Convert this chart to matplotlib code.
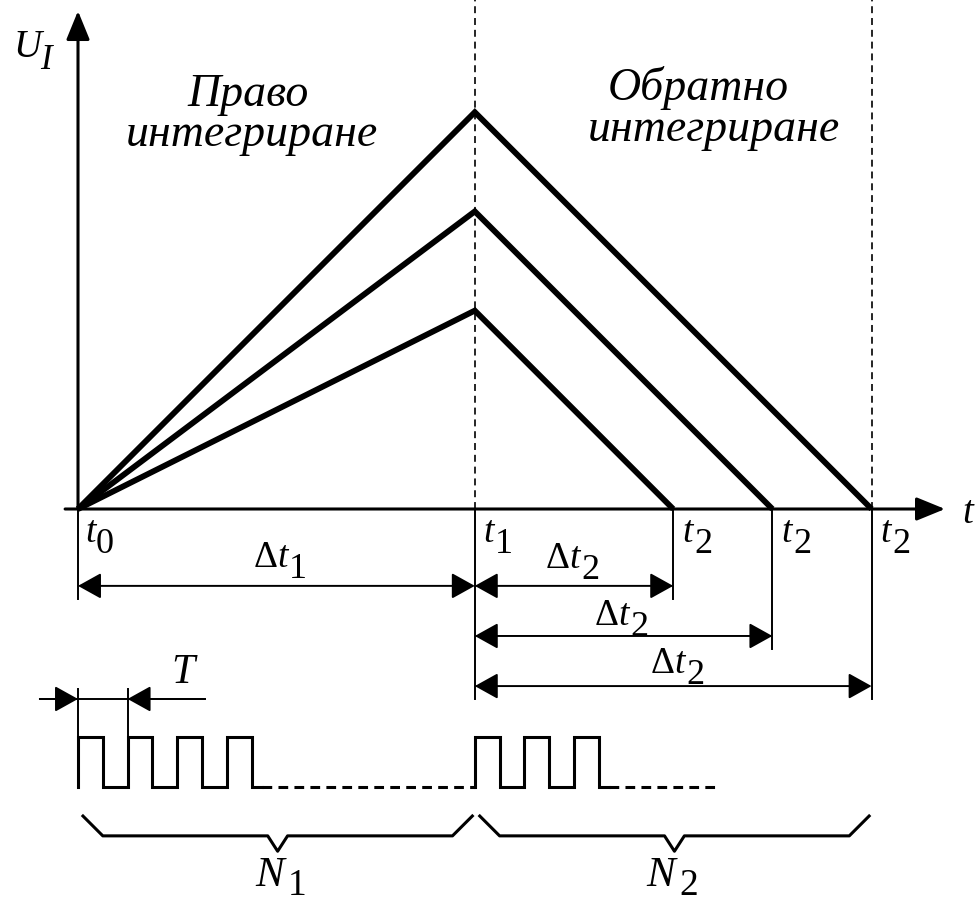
import numpy as np
import matplotlib.pyplot as plt

plt.rcParams['font.family'] = 'Liberation Serif'
plt.rcParams['mathtext.fontset'] = 'custom'
plt.rcParams['mathtext.rm'] = 'Liberation Serif'
plt.rcParams['mathtext.it'] = 'Liberation Serif:italic'
plt.rcParams['lines.scale_dashes'] = False

#---------------------------------------------------------- data (time in clock periods T)
t0       = 0
t1       = 8
peaks    = [8, 6, 4]          # U_I at t1 for three input voltages
t2       = [16, 14, 12]       # end of reverse integration
n1_shown = 4                  # pulses drawn before the dots
n2_shown = 3
dots1_end = t1
dots2_end = 12.9

#---------------------------------------------------------- figure in units of T
S  = 49.6                     # px per unit
W, H = 979, 904
ox, oy = 78, 510              # origin in px
fig = plt.figure(figsize=(W/100, H/100), dpi=100)
ax = fig.add_axes([0, 0, 1, 1])
ax.set_xlim(-ox/S, (W-ox)/S)
ax.set_ylim(-(H-oy)/S, oy/S)
ax.axis('off')

def px(x, y):
    # pixel position -> data units
    return (x - ox)/S, (oy - y)/S

k = 'black'
thick, mid, thin = 4.2, 2.2, 1.4

# label made of pieces: (text, italic, dx, dy, size) relative to anchor (left, baseline)
def label(x, y, parts):
    for txt, it, dx, dy, fs in parts:
        ax.annotate(txt, xy=(x, y), xytext=(dx, dy), textcoords='offset pixels',
                    ha='left', va='baseline', fontsize=fs,
                    style='italic' if it else 'normal')

def sub(x, y, base, idx, step, drop=11, fs=27, fs2=26, it2=False):
    label(x, y, [(base, True, 0, 0, fs), (idx, it2, step, -drop, fs2)])

def dsub(x, y, idx):
    label(x, y, [(r'$\Delta t$', False, 0, 0, 27), (idx, False, 36, -11, 26)])

# axes with arrows
ax.annotate('', xy=(0, 10.04), xytext=(0, 0),
            arrowprops=dict(arrowstyle='-|>,head_length=1.1,head_width=0.45', mutation_scale=16,
                            lw=mid, color=k, shrinkA=0, shrinkB=0))
ax.annotate('', xy=(17.48, 0), xytext=(-0.26, 0),
            arrowprops=dict(arrowstyle='-|>,head_length=1.1,head_width=0.45', mutation_scale=16,
                            lw=mid, color=k, shrinkA=0, shrinkB=0))

# dashed guides
for xv in [t1, max(t2)]:
    ax.plot([xv, xv], [0, oy/S], ls=(0, (5, 3.5)), lw=1.2, c=k)

# integrator ramps
for p, te in zip(peaks, t2):
    ax.plot([t0, t1, te], [0, p, 0], lw=thick, c=k, solid_joinstyle='miter', solid_capstyle='butt')

# extension lines
ax.plot([t0, t0], [0, -1.81], lw=thin, c=k)
ax.plot([t1, t1], [0, -3.83], lw=thin, c=k)
for te, yb in zip(sorted(t2), [-1.81, -2.82, -3.83]):
    ax.plot([te, te], [0, yb], lw=thin, c=k)

# dimension arrows
ast = '<|-|>,head_length=0.9,head_width=0.5'
def dim(xa, xb, y):
    ax.annotate('', xy=(xb, y), xytext=(xa, y),
                arrowprops=dict(arrowstyle=ast, mutation_scale=16, lw=thin, color=k,
                                shrinkA=0, shrinkB=0))

dim(t0, t1, -1.55)
dim(t1, t2[2], -1.55)
dim(t1, t2[1], -2.56)
dim(t1, t2[0], -3.57)
dsub(*px(253, 567), '1')
dsub(*px(545, 568), '2')
dsub(*px(594, 625), '2')
dsub(*px(650, 673), '2')

# time labels
dy_t = (oy - 542)/S
sub(t0 + 7/S, dy_t, 't', '0', 11)
sub(t1 + 9/S, dy_t, 't', '1', 11)
for te in t2:
    sub(te + 9/S, dy_t, 't', '2', 12)
label(*px(962, 523), [('t', True, 0, 0, 28)])
sub(*px(13, 57), 'U', 'I', 27, drop=12, fs=28, fs2=25, it2=True)

# text for the two phases
ax.text(*px(248, 95), 'Право', fontsize=33, style='italic', ha='center', va='center')
ax.text(*px(252, 135), 'интегриране', fontsize=33, style='italic', ha='center', va='center')
ax.text(*px(698, 88), 'Обратно', fontsize=33, style='italic', ha='center', va='center')
ax.text(*px(714, 130), 'интегриране', fontsize=33, style='italic', ha='center', va='center')

# clock period T
yT = -3.83
ax.plot([-0.77, 2.56], [yT, yT], lw=thin, c=k)
ax.plot([0, 0], [-3.63, -4.6], lw=thin, c=k)
ax.plot([1, 1], [-3.63, -4.6], lw=thin, c=k)
ast1 = '-|>,head_length=0.9,head_width=0.5'
ax.annotate('', xy=(0, yT), xytext=(-0.77, yT),
            arrowprops=dict(arrowstyle=ast1, mutation_scale=16, lw=thin, color=k, shrinkA=0, shrinkB=0))
ax.annotate('', xy=(1, yT), xytext=(2.56, yT),
            arrowprops=dict(arrowstyle=ast1, mutation_scale=16, lw=thin, color=k, shrinkA=0, shrinkB=0))
label(*px(171, 683), [('T', True, 0, 0, 30)])

# pulse trains
lo, hi = -5.6, -4.6
for st, n, de in [(t0, n1_shown, dots1_end), (t1, n2_shown, dots2_end)]:
    xs, ys = [st], [lo]
    for i in range(n):
        xs += [st + i, st + i + 0.5, st + i + 0.5]
        ys += [hi, hi, lo]
        if i < n - 1:
            xs += [st + i + 1]
            ys += [lo]
    xs += [st + n - 0.5 + 0.2]
    ys += [lo]
    ax.plot(xs, ys, lw=mid, c=k, solid_joinstyle='miter')
    ax.plot([st + n - 0.3, de], [lo, lo], lw=mid, c=k, ls=(0, (7, 4.5)))

# braces
def brace(xa, xb, ytop=-6.19, ymid=-6.59, ytip=-6.9):
    c = (xa + xb) / 2
    ax.plot([xa, xa + 0.4, c - 0.2, c, c + 0.2, xb - 0.4, xb],
            [ytop, ymid, ymid, ytip, ymid, ymid, ytop], lw=mid, c=k)

brace(0.1, 7.95)
brace(8.1, 15.95)
sub(*px(255, 886), 'N', '1', 33, drop=9, fs=31, fs2=27)
sub(*px(646, 886), 'N', '2', 33, drop=9, fs=31, fs2=27)

fig.savefig('out.png', dpi=100)
